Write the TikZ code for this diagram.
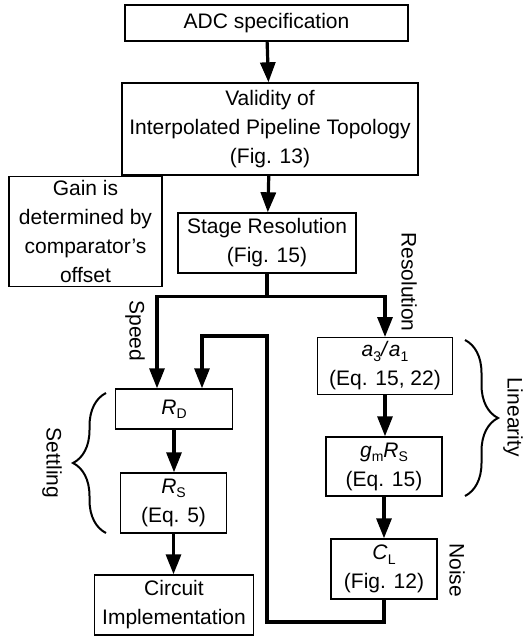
\documentclass[tikz,border=0pt]{standalone}
\usepackage{fontspec}
\setmainfont{Liberation Sans}
\usetikzlibrary{arrows.meta,decorations.pathreplacing}
\newcommand{\vsub}[2]{\textit{#1}\raisebox{-0.4ex}{\fontsize{7}{8}\selectfont #2}}

\begin{document}
\begin{tikzpicture}[x=0.5pt, y=-0.5pt,
    font=\fontsize{10.5}{14.5}\selectfont,
    box/.style={draw, line width=0.7pt, rectangle, align=center, inner sep=2pt},
    flow/.style={-{Triangle[length=10pt,width=7.5pt]}, line width=1.6pt},
    link/.style={line width=1.6pt},
    brace/.style={decorate, decoration={brace, amplitude=16.5pt}, line width=1pt},
    side/.style={rotate=-90}]
    \useasboundingbox (0,0) rectangle (526,636);

    % Nodes
    \node[box, minimum width=141.5pt, minimum height=18pt] (adc) at (266.5,23) {ADC specification};
    \node[box, minimum width=148pt, minimum height=46pt] (valid) at (270,129) {Validity of\\Interpolated Pipeline Topology\\(Fig. 13)};
    \node[box, minimum width=89pt, minimum height=30pt] (stage) at (267,243) {Stage Resolution\\(Fig. 15)};
    \node[box, minimum width=76.5pt, minimum height=54.5pt] (gain) at (85.5,231.5) {Gain is\\determined by\\comparator’s\\offset};
    \node[box, minimum width=58.5pt, minimum height=20pt] (rd) at (174,409) {\vsub{R}{D}};
    \node[box, minimum width=53pt, minimum height=30pt] (rs) at (173.5,503) {\vsub{R}{S}\\(Eq. 5)};
    \node[box, minimum width=79.5pt, minimum height=30pt] (impl) at (174,605) {Circuit\\Implementation};
    \node[box, minimum width=67.5pt, minimum height=28pt] (ratio) at (385,366) {\vsub{a}{3}\textit{/}\vsub{a}{1}\\(Eq. 15, 22)};
    \node[box, minimum width=58pt, minimum height=29.5pt] (gmrs) at (384,466.5) {\vsub{g}{m}\vsub{R}{S}\\(Eq. 15)};
    \node[box, minimum width=53pt, minimum height=30pt] (cl) at (384,569) {\vsub{C}{L}\\(Fig. 12)};

    % Side labels
    \node[side] (speed) at (135,331) {Speed};
    \node[side] (reso) at (409,282) {Resolution};
    \node[side] (settle) at (52,463) {Settling};
    \node[side] (lin) at (513,417) {Linearity};
    \node[side] (noise) at (457,570) {Noise};

    % Arrows
    \draw[flow] (adc) -- (valid);
    \draw[flow] (valid) -- (stage);
    \draw[link] (stage.south) -- ++(0,23) coordinate (split);
    \draw[flow] (split) -| ([xshift=-8.5pt]rd.north);
    \draw[flow] (split) -| (ratio.north);
    \draw[flow] (rd.south) -- (rd.south |- rs.north);
    \draw[flow] (rs.south) -- (rs.south |- impl.north);
    \draw[flow] (ratio.south) -- (ratio.south |- gmrs.north);
    \draw[flow] (gmrs.south) -- (gmrs.south |- cl.north);
    \coordinate (fb) at (267,622);
    \coordinate (fbtop) at (267,336);
    \draw[flow] (cl.south) |- (fb) -- (fbtop) -| ([xshift=14pt]rd.north);

    % Braces
    \draw[brace] (106,533) -- (106,393);
    \draw[brace] (465,340) -- (465,496);
\end{tikzpicture}
\end{document}
